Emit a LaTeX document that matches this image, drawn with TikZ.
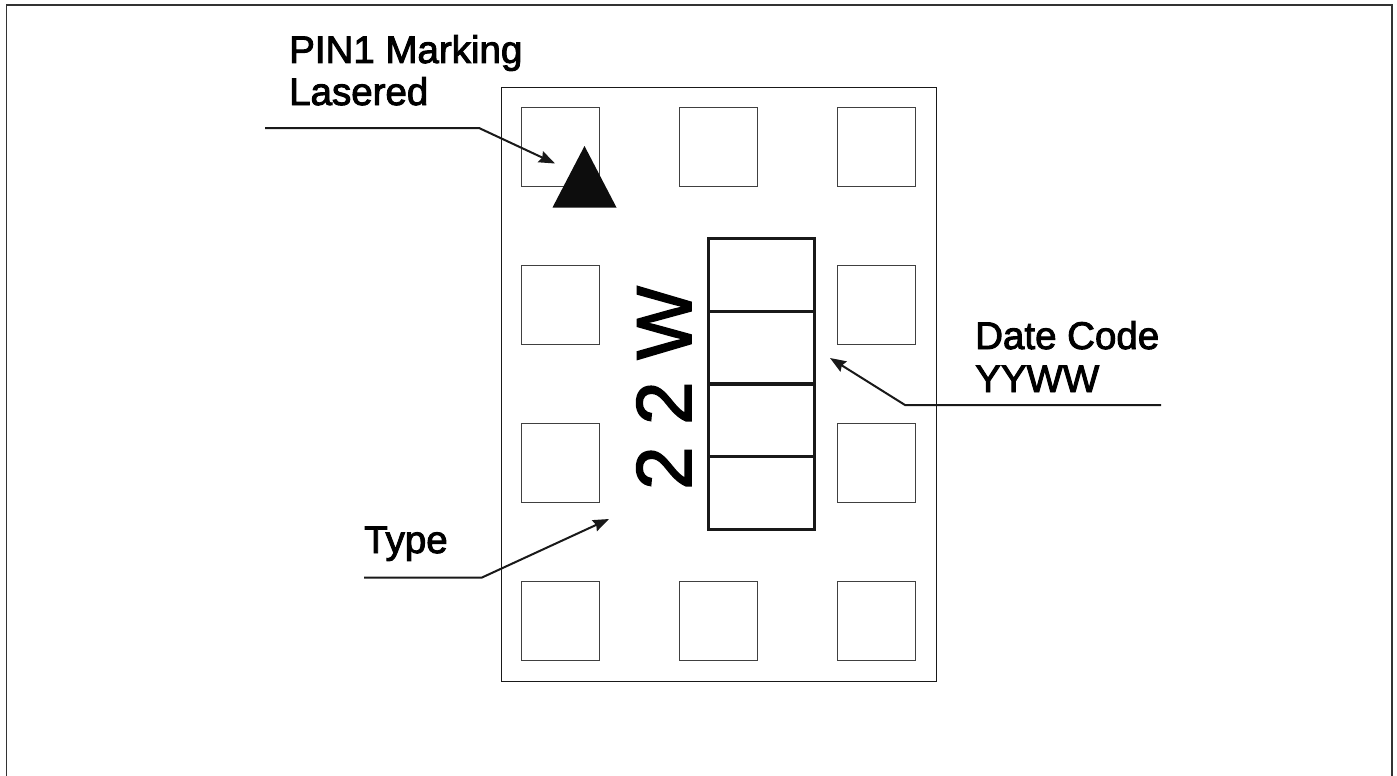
\documentclass[tikz,border=0pt]{standalone}
\usepackage{fontspec}
\setmainfont{Liberation Sans}
\newfontfamily\labelfont[FakeBold=2.5]{Liberation Sans}
\newfontfamily\markfont[FakeBold=2]{Liberation Sans}
\usetikzlibrary{arrows.meta, positioning}
\tikzstyle{pad} = [draw=black!75, line width=1pt, minimum width=78.5pt, minimum height=79pt, inner sep=0pt, outer sep=0pt]
\tikzstyle{cell} = [draw=black!90, line width=3.2pt, minimum width=106pt, minimum height=72.8pt, inner sep=0pt, outer sep=0pt]
\tikzstyle{label} = [anchor=base west, inner sep=0pt, font=\labelfont\fontsize{38.5}{38.5}\selectfont]
\tikzstyle{leader} = [line width=2pt, black!90]
\tikzstyle{arrow} = [leader, -{Stealth[length=16pt,width=12pt,inset=2pt]}]
\begin{document}
\begin{tikzpicture}[x=1pt,y=-1pt]
    \useasboundingbox (0,0) rectangle (1397,776);
    \draw[line width=1.6pt, black!80] (6.5,776) -- (6.5,5) -- (1392,5) -- (1392,776);

    \node[draw=black!90, line width=1pt, minimum width=435pt, minimum height=594pt, inner sep=0pt] (body) at (718.5,384) {};

    % pads, middle column has only top and bottom
    \foreach \row/\y in {1/146.5, 2/304.5, 3/462.5, 4/620.5} {
        \node[pad] (pad-\row-1) at (560.5,\y) {};
        \node[pad] (pad-\row-3) at (876.5,\y) {};
    }
    \node[pad] (pad-1-2) at (718.5,146.5) {};
    \node[pad] (pad-4-2) at (718.5,620.5) {};

    \fill[black!95] (584.5,146) -- (616.5,207.5) -- (552.5,207.5) -- cycle;

    \node[cell] (cell-1) at (761.5,274.8) {};
    \node[cell, below=0pt of cell-1] (cell-2) {};
    \node[cell, below=0pt of cell-2] (cell-3) {};
    \node[cell, below=0pt of cell-3] (cell-4) {};

    \node[anchor=base west, rotate=90, inner sep=0pt, font=\markfont\fontsize{78}{78}\selectfont] (type-code) at (691,490) {2 2 W};

    \node[label] (pin-1) at (289,63) {PIN1 Marking};
    \node[label] (pin-2) at (289,105) {Lasered};
    \node[label] (date-1) at (975,349) {Date Code};
    \node[label] (date-2) at (975,392) {YYWW};
    \node[label] (type-label) at (364,553) {Type};

    \coordinate (pin-start) at (265,128);
    \coordinate (pin-bend) at (479,128);
    \coordinate (pin-tip) at (555,163.5);
    \coordinate (date-start) at (1161,405);
    \coordinate (date-bend) at (905,405);
    \coordinate (date-tip) at (830,358);
    \coordinate (type-start) at (364,577.5);
    \coordinate (type-bend) at (482,577.5);
    \coordinate (type-tip) at (609,519);

    \draw[arrow] (pin-start) -- (pin-bend) -- (pin-tip);
    \draw[arrow] (date-start) -- (date-bend) -- (date-tip);
    \draw[arrow] (type-start) -- (type-bend) -- (type-tip);
\end{tikzpicture}
\end{document}
